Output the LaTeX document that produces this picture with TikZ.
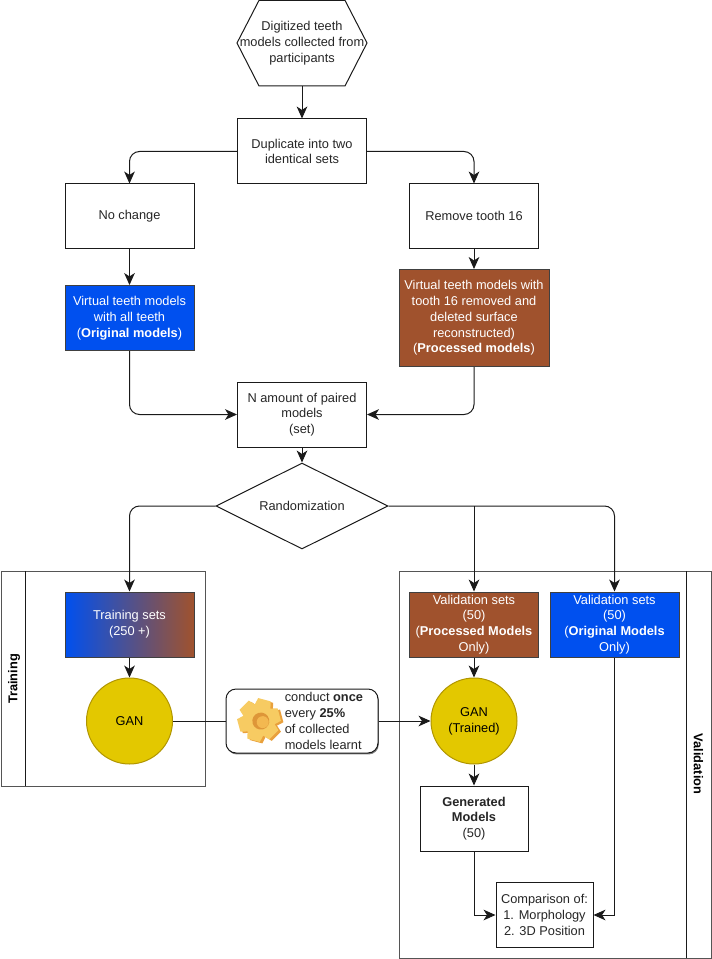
\documentclass[tikz,border=0pt]{standalone}
\usepackage{fontspec}
\setmainfont{Liberation Sans}
\usetikzlibrary{arrows.meta,shapes.geometric,shadows}
\definecolor{dblue}{HTML}{0050EF}
\definecolor{dbrown}{HTML}{A0522D}
\definecolor{dyellow}{HTML}{E3C800}
\definecolor{dyellowline}{HTML}{B09500}
\definecolor{dline}{HTML}{1A1A1A}
\definecolor{dlane}{HTML}{555555}
\definecolor{geardark}{HTML}{E9A03C}
\definecolor{gearlight}{HTML}{F7CB62}
\definecolor{gearhole}{HTML}{DE9638}
\definecolor{gearin}{HTML}{F3B850}
\tikzset{
  sz/.style 2 args={minimum width=#1*0.75pt,minimum height=#2*0.75pt},
  base/.style={font=\fontsize{9.6}{11.8}\selectfont,align=center,inner sep=0pt,text=black!85},
  box/.style={base,draw=dline,fill=white,line width=0.75pt},
  bluebox/.style={box,fill=dblue,draw=black!75,text=white},
  brownbox/.style={box,fill=dbrown,draw=black!75,text=white},
  gradbox/.style={box,draw=black!75,left color=dblue,right color=dbrown,text=white,shading angle=90},
  gan/.style={base,circle,fill=dyellow,draw=dyellowline,line width=0.75pt,minimum size=86*0.75pt,text=black},
  link/.style={draw=dline,line width=0.75pt},
  curvedlink/.style={link,rounded corners=7.5pt},
  arrowtip/.style={-{Stealth[length=9pt,width=8pt,inset=2.6pt]}},
  arr/.style={link,arrowtip},
  curvedarr/.style={curvedlink,arrowtip},
  lane/.style={draw=dlane,line width=0.75pt},
  lanetext/.style={font=\fontsize{9.6}{11}\selectfont\bfseries,inner sep=0pt,text=black},
}
\begin{document}
\begin{tikzpicture}[x=0.75pt,y=-0.75pt]
\useasboundingbox (0,0) rectangle (712,959);
% swimlanes
\draw[lane] (1,571) rectangle (205,786);
\draw[link] (25,571) -- (25,786);
\node[lanetext,rotate=90] (ltrain) at (14,679) {Training};
\draw[lane] (399,571) rectangle (711,958);
\draw[link] (686,571) -- (686,958);
\node[lanetext,rotate=-90] (lval) at (698.5,764) {Validation};
% nodes
\node[base,sz={130}{86}] (hex) at (302,43) {Digitized teeth\\models collected from\\participants};
\draw[draw=dline,line width=0.75pt] (237,43) -- (259,0.4) -- (345,0.4) -- (367,43) -- (345,86) -- (259,86) -- cycle;
\node[box,sz={129}{65}] (dup) at (302,151.5) {Duplicate into two\\identical sets};
\node[box,sz={129}{64}] (nc) at (129.5,216) {No change};
\node[box,sz={129}{64}] (rm) at (474,216) {Remove tooth 16};
\node[bluebox,sz={129}{65}] (orig) at (129.5,318) {Virtual teeth models\\with all teeth\\(\textbf{Original models})};
\node[brownbox,sz={150}{97}] (proc) at (474,318) {Virtual teeth models with\\tooth 16 removed and\\deleted surface\\reconstructed)\\(\textbf{Processed models})};
\node[box,sz={129}{65}] (pair) at (302,414.5) {N amount of paired\\models\\(set)};
\node[box,diamond,shape aspect=2,sz={172}{86}] (rand) at (302,506) {Randomization};
\node[gradbox,sz={129}{65}] (tset) at (129.5,624.5) {Training sets\\(250 +)};
\node[gan] (g1) at (129.5,721) {GAN};
\node[brownbox,sz={129}{65}] (vproc) at (474,624.5) {Validation sets\\(50)\\(\textbf{Processed Models}\\Only)};
\node[bluebox,sz={129}{65}] (vorig) at (614.5,624.5) {Validation sets\\(50)\\(\textbf{Original Models}\\Only)};
\node[gan] (g2) at (474,721) {GAN\\(Trained)};
\node[box,sz={108}{65}] (genm) at (474,818.5) {\textbf{Generated}\\\textbf{Models}\\(50)};
\node[box,sz={97}{65}] (cmp) at (544.5,915) {Comparison of:\\1. Morphology\\2. 3D Position};
\node[box,rounded corners=7.5pt,sz={152}{64},drop shadow={shadow xshift=0.6pt,shadow yshift=-1.1pt,fill=black,opacity=0.5}] (call) at (302,721) {};
\node[base,anchor=west,align=left] (calltext) at (284.5,721) {conduct \textbf{once}\\every \textbf{25\%}\\of collected\\models learnt};
% gear
\begin{scope}[shift={(259,720)},rotate=15]
  \foreach \c/\dx/\dy in {geardark/2/2,gearlight/0/0}{
    \begin{scope}[shift={(\dx,\dy)}]
      \fill[\c] (0,0) circle (16);
      \foreach \a in {0,60,...,300}{
        \fill[\c,rotate=\a] (12,-8.5) -- (21,-6.5) -- (21,6.5) -- (12,8.5) -- cycle;
      }
    \end{scope}
  }
  \fill[gearhole] (1.5,1.5) circle (8.5);
  \fill[gearin] (3,3) circle (6);
\end{scope}
% connectors
\coordinate (junction) at (rand.east -| vproc.north);
\draw[arr] (hex.south) -- (dup.north);
\draw[curvedarr] (dup.west) -| (nc.north);
\draw[curvedarr] (dup.east) -| (rm.north);
\draw[arr] (nc.south) -- (orig.north);
\draw[arr] (rm.south) -- (proc.north);
\draw[curvedarr] (orig.south) |- (pair.west);
\draw[curvedarr] (proc.south) |- (pair.east);
\draw[arr] (pair.south) -- (rand.north);
\draw[curvedarr] (rand.west) -| (tset.north);
\draw[arr] (junction) -- (vproc.north);
\draw[curvedarr] (rand.east) -| (vorig.north);
\draw[arr] (tset.south) -- (g1.north);
\draw[link] (g1.east) -- (call.west);
\draw[arr] (call.east) -- (g2.west);
\draw[arr] (vproc.south) -- (g2.north);
\draw[arr] (g2.south) -- (genm.north);
\draw[arr] (genm.south) |- (cmp.west);
\draw[arr] (vorig.south) |- (cmp.east);
\end{tikzpicture}
\end{document}
